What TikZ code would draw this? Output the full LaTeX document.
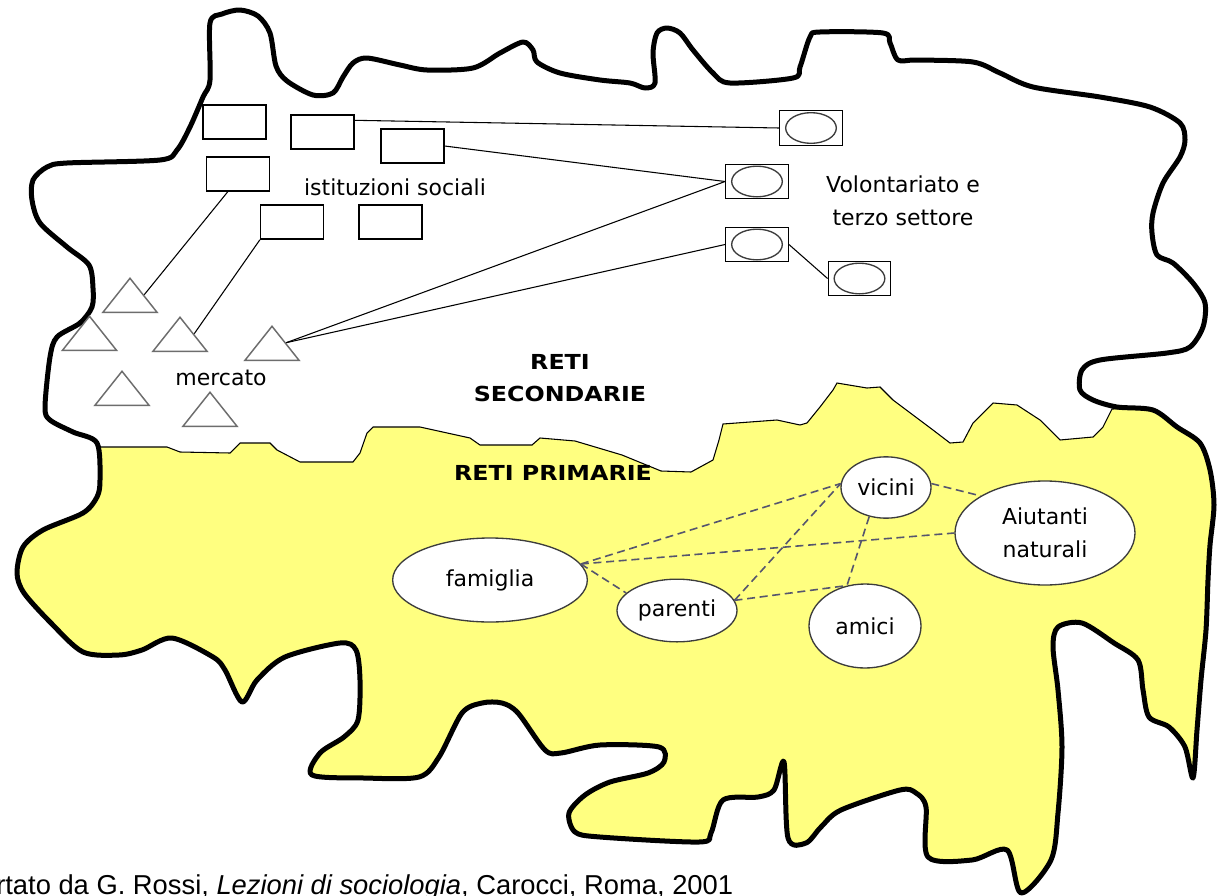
\documentclass[tikz,border=0pt]{standalone}
\usepackage{fontspec}
\usetikzlibrary{shapes.geometric}
\setmainfont{DejaVu Sans}
\newfontfamily\citefont{Liberation Sans}
\newfontfamily\retifont[FakeStretch=1.15]{DejaVu Sans}
\definecolor{primarie}{RGB}{255,255,128}
\definecolor{tratto}{RGB}{85,85,110}
\definecolor{bordo}{RGB}{60,60,60}

\begin{document}
\begin{tikzpicture}[x=0.75pt,y=-0.75pt,
    lbl/.style={font=\fontsize{16.5}{24.75}\selectfont, align=center},
    grassetto/.style={font=\retifont\bfseries\fontsize{15.5}{24}\selectfont, align=center},
    inst/.style={draw, line width=1.2pt, minimum width=47pt, minimum height=25.5pt, inner sep=0pt},
    volo/.style={draw, line width=0.9pt, minimum width=47pt, minimum height=26pt, inner sep=0pt,
        path picture={\draw[bordo, line width=1pt] (path picture bounding box.center) ellipse (19pt and 11.5pt);}},
    merc/.style={draw=bordo!75, line width=1.1pt, isosceles triangle, isosceles triangle stretches,
        shape border rotate=90, minimum width=40.5pt, minimum height=25.5pt, inner sep=0pt, anchor=lower side},
    pers/.style={ellipse, draw=bordo, fill=white, line width=1pt, inner sep=0pt, lbl},
    link/.style={line width=0.8pt},
    rel/.style={tratto, line width=1.2pt, dash pattern=on 6pt off 3.5pt}]
    \useasboundingbox[fill=white] (0,0) rectangle (1218,896);

    % contorno della rete
    \path[save path=\orlo] plot[smooth cycle, tension=0.5] coordinates {
        (210,80) (210,23) (222,14) (240,10) (258,16) (270,33) (276,66) (287,81) (313,95) (333,93)
        (343,77) (353,63) (367,58) (400,65) (427,70) (473,68) (500,53) (523,42) (533,50) (537,62)
        (560,73) (600,80) (630,83) (645,88) (655,83) (653,53) (657,33) (667,28) (680,33) (693,50)
        (713,73) (730,83) (793,78) (800,67) (810,37) (820,32) (883,33) (890,43) (898,60) (917,60)
        (973,62) (1000,73) (1033,87) (1100,97) (1150,107) (1180,123) (1185,140) (1180,157) (1163,183)
        (1153,213) (1152,233) (1157,255) (1173,263) (1193,283) (1205,303) (1203,327) (1190,347)
        (1167,353) (1100,360) (1082,370) (1080,390) (1093,400) (1117,407) (1153,410) (1177,427)
        (1200,443) (1210,470) (1214,505) (1210,545) (1208,580) (1206,630) (1201,680) (1197,730)
        (1193,778) (1185,747) (1169,727) (1149,717) (1143,690) (1138,660) (1114,643) (1082,623)
        (1058,627) (1053,647) (1058,690) (1062,747) (1058,813) (1051,860) (1021,893) (1007,850)
        (972,860) (928,857) (926,807) (916,793) (900,790) (841,810) (821,827) (806,843) (788,838)
        (784,762) (774,790) (758,797) (723,800) (711,833) (699,842) (600,837) (575,832) (569,813)
        (585,795) (610,782) (648,773) (664,762) (659,747) (600,745) (561,753) (545,750) (518,713)
        (502,703) (482,703) (462,713) (439,757) (419,777) (364,778) (312,775) (320,753) (344,737)
        (358,720) (360,680) (356,650) (340,643) (285,657) (257,680) (242,702) (225,670) (213,657)
        (172,638) (142,650) (119,655) (83,652) (51,623) (24,593) (17,573) (23,547) (43,530)
        (83,513) (97,497) (100,480) (97,443) (73,432) (50,420) (45,407) (50,357) (57,337) (80,323)
        (92,307) (93,288) (89,265) (67,247) (40,223) (32,200) (33,180) (47,167) (67,163) (160,160)
        (177,150) (190,127) (203,97)};
    \begin{scope}
        \clip[use path=\orlo];
        \filldraw[fill=primarie, draw=black, line width=0.8pt] (-50,447) -- (100,447) -- (120,447)
            -- (167,447) -- (180,452) -- (230,453) -- (240,443) -- (270,443) -- (277,450) -- (300,462)
            -- (353,462) -- (360,453) -- (367,433) -- (373,427) -- (420,427) -- (470,438) -- (480,445)
            -- (532,445) -- (540,438) -- (575,441) -- (622,455) -- (661,471) -- (691,472) -- (713,460)
            -- (719,440) -- (723,424) -- (777,420) -- (800,425) -- (807,423) -- (820,407) -- (833,390)
            -- (837,383) -- (867,388) -- (880,387) -- (893,400) -- (933,430) -- (950,443) -- (963,442)
            -- (973,423) -- (993,403) -- (1017,405) -- (1040,420) -- (1060,440) -- (1093,437)
            -- (1103,427) -- (1112,409) -- (1300,405) -- (1300,1000) -- (-50,1000) -- cycle;
    \end{scope}
    \draw[line width=3.75pt, line join=round, use path=\orlo];

    % reti secondarie
    \node[inst] (r1) at (234.5,122) {};
    \node[inst] (r2) at (322.5,132) {};
    \node[inst] (r3) at (412.5,146) {};
    \node[inst] (r4) at (238,174) {};
    \node[inst] (r5) at (292,222) {};
    \node[inst] (r6) at (390.5,222) {};
    \node[lbl] (ist) at (395,187) {istituzioni sociali};

    \node[volo] (v1) at (811,128) {};
    \node[volo] (v2) at (757,181.5) {};
    \node[volo] (v3) at (757,244.5) {};
    \node[volo] (v4) at (859.5,278.5) {};
    \node[lbl] (vol) at (903,201) {Volontariato e\\terzo settore};

    \node[merc] (t1) at (130,313) {};
    \node[merc] (t2) at (89.5,351) {};
    \node[merc] (t3) at (180,352) {};
    \node[merc] (t4) at (272,361) {};
    \node[merc] (t5) at (122,406) {};
    \node[merc] (t6) at (210,427) {};
    \node[lbl] (mer) at (221,378) {mercato};

    \node[grassetto] (sec) at (560,378) {RETI\\SECONDARIE};

    \draw[link] (r2.20) -- (v1.west);
    \draw[link] (r3.east) -- (v2.west);
    \draw[link] (t4.right side) -- (v2.west);
    \draw[link] (t4.right side) -- (v3.west);
    \draw[link] (v3.east) -- (v4.west);
    \draw[link] (r4.240) -- (t1.right side);
    \draw[link] (r5.south west) -- (t3.right side);

    % reti primarie
    \node[grassetto] (pri) at (553,473) {RETI PRIMARIE};
    \node[pers, minimum width=146pt, minimum height=63pt] (famiglia) at (490,580) {famiglia};
    \node[pers, minimum width=90pt, minimum height=47pt] (parenti) at (677,610.5) {parenti};
    \node[pers, minimum width=67.5pt, minimum height=46pt] (vicini) at (886,487.5) {vicini};
    \node[pers, minimum width=84pt, minimum height=63pt] (amici) at (865,626) {amici};
    \node[pers, minimum width=135pt, minimum height=78pt] (aiutanti) at (1045,533) {Aiutanti\\naturali};

    \draw[rel] (famiglia.10) -- (vicini.175);
    \draw[rel] (famiglia.10) -- (aiutanti.west);
    \draw[rel] (famiglia.10) -- (parenti.161);
    \draw[rel] (parenti.10) -- (vicini.175);
    \draw[rel] (parenti.10) -- (amici.114);
    \draw[rel] (vicini.240) -- (amici.114);
    \draw[rel] (vicini.5) -- (aiutanti.150);

    \node[anchor=base west, inner sep=0pt, font=\citefont\fontsize{20.5}{24}\selectfont] (fonte) at (-4,894)
        {rtato da G. Rossi, \textit{Lezioni di sociologia}, Carocci, Roma, 2001};
\end{tikzpicture}
\end{document}
